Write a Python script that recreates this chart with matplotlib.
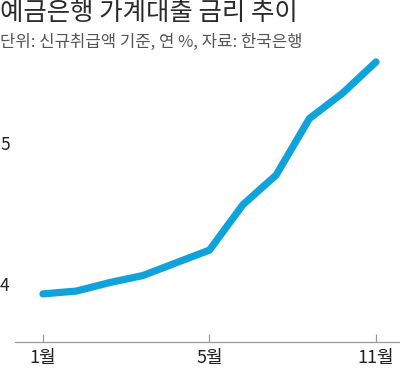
import matplotlib

matplotlib.use("Agg")
import matplotlib.pyplot as plt

plt.rcParams["font.family"] = ["Noto Sans CJK KR", "DejaVu Sans"]

# 예금은행 가계대출 금리 (신규취급액 기준, 연 %)
months = list(range(11))
rates = [3.93, 3.95, 4.01, 4.06, 4.15, 4.24, 4.56, 4.77, 5.17, 5.35, 5.57]
xtick_pos = [0, 5, 10]
xtick_labels = ["1월", "5월", "11월"]
ytick_vals = [4, 5]

TITLE = "예금은행 가계대출 금리 추이"
SUBTITLE = "단위: 신규취급액 기준, 연 %, 자료: 한국은행"

W, H = 400, 370
fig = plt.figure(figsize=(W / 100, H / 100), dpi=100)
# axes box in pixels: left 15, right 400, top 40, bottom 342
ax = fig.add_axes([15 / W, 1 - 342 / H, 385 / W, 302 / H])

ax.plot(months, rates, color="#0fa3dc", lw=5.2, solid_capstyle="round",
        solid_joinstyle="miter")

ax.set_xlim(-0.84, 10.72)
ax.set_ylim(3.59, 5.725)

for s in ["top", "right", "left"]:
    ax.spines[s].set_visible(False)
ax.spines["bottom"].set_color("#9a9a9a")
ax.spines["bottom"].set_linewidth(0.9)

num_font = ["Liberation Sans Narrow", "Noto Sans CJK KR"]
ax.set_xticks(xtick_pos)
ax.set_xticklabels(xtick_labels, family=num_font, fontsize=13, color="#222222")
ax.tick_params(axis="x", direction="in", length=6, width=0.9, color="#9a9a9a", pad=5)

ax.set_yticks(ytick_vals)
ax.set_yticklabels([str(v) for v in ytick_vals], family=num_font, fontsize=12.5,
                   color="#222222")
for lab in ax.get_yticklabels():
    lab.set_horizontalalignment("left")
    lab.set_x(-15 / 385)
ax.tick_params(axis="y", length=0, pad=0)

fig.text(0, 1 - 0 / H, TITLE, fontsize=18.3, color="#2b2b2b", va="top", ha="left",
         fontweight="medium")
fig.text(0, 1 - 34 / H, SUBTITLE, fontsize=12, color="#555555", va="top", ha="left")

fig.savefig("out.png", dpi=100)
